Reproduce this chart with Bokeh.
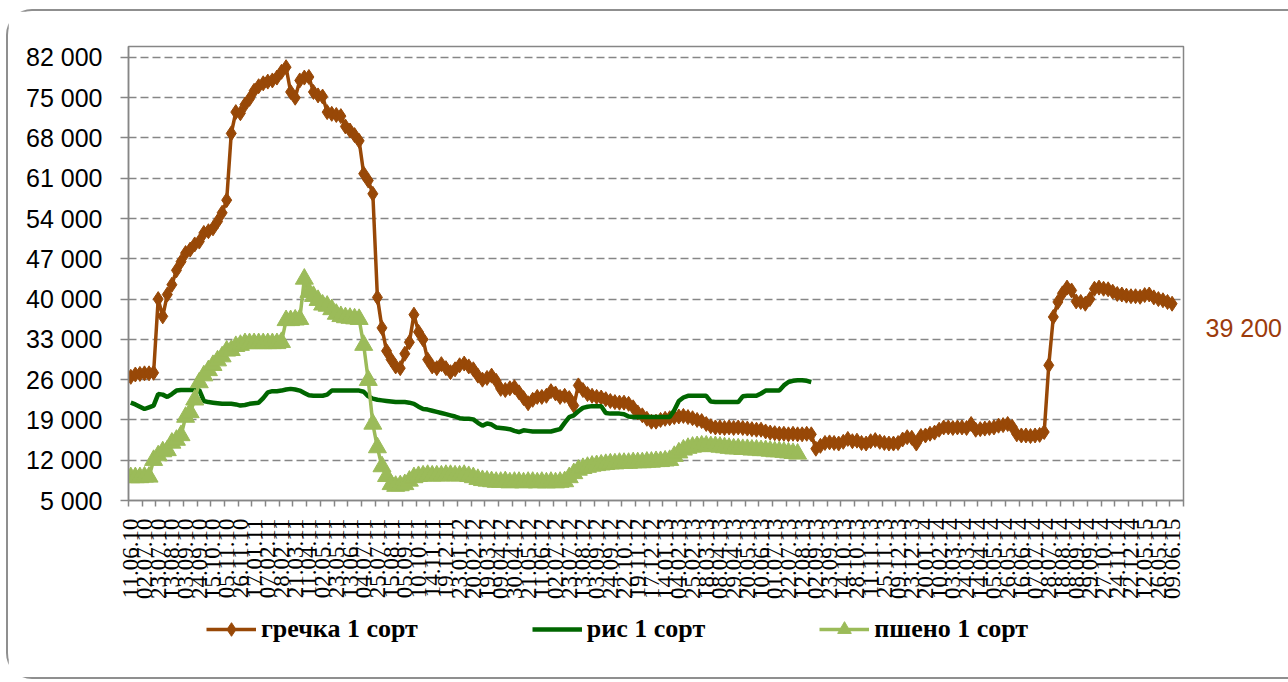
import math
from bokeh.plotting import figure
from bokeh.layouts import column
from bokeh.models import Range1d, FixedTicker, Legend, LegendItem, LinearAxis
from bokeh.embed import file_html
from bokeh.resources import INLINE

# ---------------- data ----------------
x_labels = [
    "11.06.10", "02.07.10", "23.07.10", "13.08.10", "03.09.10", "24.09.10", "15.10.10", "05.11.10", "26.11.10",
    "17.01.11", "07.02.11", "28.02.11", "21.03.11", "11.04.11", "02.05.11", "23.05.11", "13.06.11", "04.07.11",
    "25.07.11", "15.08.11", "05.09.11", "10.10.11", "14.11.11", "19.12.11",
    "23.01.12", "20.02.12", "19.03.12", "09.04.12", "30.04.12", "21.05.12", "11.06.12", "02.07.12", "23.07.12",
    "13.08.12", "03.09.12", "24.09.12", "22.10.12", "19.11.12", "17.12.12",
    "14.01.13", "04.02.13", "25.02.13", "18.03.13", "08.04.13", "29.04.13", "20.05.13", "10.06.13", "01.07.13",
    "22.07.13", "12.08.13", "02.09.13", "23.09.13", "14.10.13", "28.10.13", "11.11.13", "25.11.13", "09.12.13",
    "23.12.13",
    "20.01.14", "10.02.14", "03.03.14", "24.03.14", "14.04.14", "05.05.14", "26.05.14", "16.06.14", "07.07.14",
    "28.07.14", "18.08.14", "08.09.14", "29.09.14", "27.10.14", "24.11.14", "22.12.14",
    "12.05.15", "26.05.15", "09.06.15",
]

grechka = [
    26500, 26900, 27000, 27100, 27100, 27200,
    40000, 37000, 40800, 42500, 45000,
    46500, 48000, 48600, 49500, 50000,
    51500, 51800, 52300, 53500, 55000, 57200, 68800,
    72500, 72300, 73800, 74800, 76200, 77000, 77500,
    77800, 78000, 78500, 79500, 80300,
    76000, 75000, 78000, 78500, 78600,
    76000, 75400, 75200, 72500, 72200, 72000, 71800,
    70000, 69300, 68500, 67500, 61800, 60600, 58300,
    40300, 35000, 31000, 29500, 28300, 28000,
    30500, 32500, 37300, 34300, 33000, 29500, 28300,
    28000, 28700, 28000, 27300, 27800, 28500, 28800, 28300, 27800,
    26700, 26000, 26300, 26700, 25800, 24400, 24200, 24500, 24700,
    23800, 22800, 21900, 22500, 23000, 23000, 23200, 24000, 23600,
    23000, 23200, 22800, 21500, 25000, 24200,
    23500, 23200, 23000, 22900, 22600, 22300, 22100, 22000, 22000, 21800,
    21200, 20300, 19800, 19200, 18700, 18700, 19000, 19200, 19300, 19500,
    19600, 19700, 19500, 19300, 19000, 18800, 18300, 17900, 17700,
    17700, 17600, 17700, 17600, 17700, 17600, 17500,
    17400, 17300, 17300, 17000, 16800, 16700,
    16600, 16600, 16500, 16600, 16500, 16500, 16600, 16500,
    14000, 14500, 15000, 15100, 15000, 14900, 15200, 15700, 15300, 15400,
    15000, 14900, 15300, 15500, 15200, 15000, 14900, 14900, 15000, 15600,
    16000, 15900, 14900, 16200, 16300, 16600, 16800, 17300, 17700,
    17700, 17600, 17700, 17700, 17600,
    18300, 17300, 17400, 17500, 17600, 17700, 18000, 18100, 18300, 17800,
    16500, 16300, 16300, 16200, 16300, 16400,
    16900, 28500, 36900, 39500, 41000, 42000, 41500, 39600, 39500, 39200,
    40000, 41800, 42000, 41800, 41700, 41300, 40900, 40800, 40600, 40500,
    40500, 40400, 40700, 40800, 40300, 40000, 39800, 39500, 39200,
]

ris = [
    22000, 21700, 21300, 20900, 21200, 21500,
    23500, 23400, 23000, 23500, 24100,
    24200, 24200, 24200, 24200, 24200,
    22300, 22100, 22000, 21900, 21800,
    21800, 21800, 21700, 21500, 21600, 21800, 21900, 22000,
    22800, 23800, 24000, 24000, 24100, 24300, 24400, 24300, 24100,
    23700, 23300, 23200, 23200, 23200, 23400,
    24100, 24100, 24100, 24100, 24100, 24100, 24100,
    23900, 23100, 22700, 22500, 22400, 22300, 22200, 22100,
    22100, 22100, 22000, 21800, 21300, 20900, 20800, 20600,
    20400, 20200, 20000, 19800, 19600, 19300, 19200, 19200, 19100,
    18500, 18000, 18400, 18200, 17700, 17600, 17500, 17400, 17100, 16900,
    17200, 17100, 17000, 17000, 17000, 17000, 17000, 17200, 17400,
    18500, 19500, 19800, 20500, 21100, 21300, 21400, 21400, 21400,
    20200, 20100, 20100, 20100, 20000, 19600,
    19500, 19500, 19500, 19500, 19500, 19500, 19500, 19500, 19500,
    20700, 22300, 22900, 23200, 23200, 23200, 23200, 23200,
    22200, 22100, 22100, 22100, 22100, 22100, 22100,
    23100, 23200, 23200, 23200, 23600, 24100, 24100, 24100, 24100,
    25000, 25600, 25800, 25900, 25900, 25800, 25600,
]

psheno = [
    9000, 9000, 9000, 9100, 9100,
    12000, 12800, 13500, 13700, 15000, 15500,
    16300, 19500, 20300, 22500, 25500,
    26700, 27600, 28500, 29300, 30000, 31000, 31100, 31800, 32000,
    32300, 32300, 32300, 32300, 32300, 32300, 32300, 32300, 32500,
    36300, 36300, 36400, 36500,
    43500, 41200, 40500, 39800, 39000, 38800, 38200,
    37400, 37000, 36800, 36700, 36600, 36500,
    32000, 25900, 18300, 14200, 10900, 9200,
    7800, 7500, 7600, 7800, 8400, 9000, 9200,
    9300, 9400, 9300, 9300, 9300, 9400, 9400, 9300, 9300, 9400, 9200, 9000,
    8700, 8500, 8400, 8300, 8200, 8200, 8300, 8100, 8200, 8200,
    8100, 8200, 8200, 8100, 8200, 8100, 8200, 8100, 8200, 8300,
    9000, 9700, 10300, 10600, 10800, 11000, 11100, 11200,
    11300, 11400, 11400, 11500, 11500, 11500, 11600, 11600, 11600, 11700,
    11700, 11800, 11800, 11900, 12000,
    12700, 13300, 13800, 14100, 14300, 14400,
    14500, 14500, 14400, 14400, 14300, 14200,
    14100, 14000, 14000, 13900, 13900, 13800, 13800, 13700, 13700, 13600,
    13500, 13500, 13400, 13300, 13200, 13100,
]

series_names = ["гречка 1 сорт", "рис 1 сорт", "пшено 1 сорт"]
y_ticks = [5000, 12000, 19000, 26000, 33000, 40000, 47000, 54000, 61000, 68000, 75000, 82000]
y_tick_labels = ["5 000", "12 000", "19 000", "26 000", "33 000", "40 000", "47 000",
                 "54 000", "61 000", "68 000", "75 000", "82 000"]
last_value_level = 34900   # height at which the last buckwheat value is written

N_CATS = 231          # category slots on the axis
LABEL_STEP = 3        # a label every third category

BROWN = "#984807"
GREEN = "#006600"
LGREEN = "#9BBB59"
GRAY = "#868686"

# ---------------- main figure ----------------
p = figure(width=1280, height=600, output_backend="svg", toolbar_location=None,
           x_range=Range1d(-0.5, N_CATS - 0.5), y_range=Range1d(5000, 83900),
           min_border_left=120, min_border_right=105, min_border_top=35, min_border_bottom=111)
p.title.visible = False
p.background_fill_color = "white"
p.border_fill_color = "white"
p.outline_line_color = GRAY
p.outline_line_width = 1.5

label_pos = [i * LABEL_STEP for i in range(len(x_labels))]
bounds = [i - 0.5 for i in range(0, N_CATS + 1, LABEL_STEP)]

xa = p.xaxis[0]
xa.ticker = FixedTicker(ticks=label_pos, minor_ticks=bounds)
xa.major_label_overrides = {pos: lab for pos, lab in zip(label_pos, x_labels)}
xa.major_label_orientation = math.pi / 2
xa.major_tick_line_color = None
xa.major_tick_out = 0
xa.major_tick_in = 0
xa.minor_tick_line_color = GRAY
xa.minor_tick_line_width = 1.5
xa.minor_tick_out = 6
xa.minor_tick_in = 0
xa.axis_line_color = GRAY
xa.axis_line_width = 1.5
xa.major_label_text_font = "Liberation Serif"
xa.major_label_text_font_size = "23px"
xa.major_label_text_color = "black"
xa.major_label_standoff = 12

ya = p.yaxis[0]
ya.ticker = FixedTicker(ticks=y_ticks)
ya.major_label_overrides = dict(zip(y_ticks, y_tick_labels))
ya.major_tick_line_color = GRAY
ya.major_tick_line_width = 1.5
ya.major_tick_out = 8
ya.major_tick_in = 0
ya.minor_tick_line_color = None
ya.axis_line_color = GRAY
ya.axis_line_width = 1.5
ya.major_label_text_font = "Liberation Sans"
ya.major_label_text_font_size = "25px"
ya.major_label_text_color = "black"
ya.major_label_standoff = 18

p.xgrid.visible = False
p.ygrid.grid_line_color = GRAY
p.ygrid.grid_line_width = 1.5
p.ygrid.grid_line_dash = "8 4"

# right-hand axis carrying the last buckwheat value
ra = LinearAxis(ticker=FixedTicker(ticks=[last_value_level]),
                major_label_overrides={last_value_level: f"{grechka[-1]:,}".replace(",", " ")})
ra.axis_line_color = None
ra.major_tick_line_color = None
ra.minor_tick_line_color = None
ra.major_tick_out = 0
ra.major_tick_in = 0
ra.major_label_standoff = 22
ra.major_label_text_font = "Liberation Sans"
ra.major_label_text_font_size = "25px"
ra.major_label_text_color = "#9C3B0B"
p.add_layout(ra, "right")

# ---------------- series ----------------
xg = list(range(len(grechka)))
xr = list(range(len(ris)))
xp = list(range(len(psheno)))

STY = dict(
    g_line=dict(line_color=BROWN, line_width=3.5),
    g_mark=dict(marker="diamond", size=15, fill_color=BROWN, line_color=BROWN),
    r_line=dict(line_color=GREEN, line_width=4.5),
    p_line=dict(line_color=LGREEN, line_width=3.5),
    p_mark=dict(marker="triangle", size=18, fill_color=LGREEN, line_color=LGREEN),
)

p.line(xg, grechka, **STY["g_line"])
p.scatter(xg, grechka, **STY["g_mark"])
p.line(xr, ris, **STY["r_line"])
p.line(xp, psheno, **STY["p_line"])
p.scatter(xp, psheno, **STY["p_mark"])

# ---------------- legend strip (own small figure) ----------------
lg = figure(width=1280, height=66, output_backend="svg", toolbar_location=None,
            x_range=Range1d(0, 1), y_range=Range1d(0, 1),
            x_axis_location=None, y_axis_location=None, min_border=0)
lg.title.visible = False
lg.grid.visible = False
lg.outline_line_color = None
lg.background_fill_color = "white"
lg.border_fill_color = "white"
# same series, drawn off the visible range of this strip: only their legend swatches show
l1 = lg.line(xg, grechka, **STY["g_line"])
l1m = lg.scatter(xg, grechka, **STY["g_mark"])
l2 = lg.line(xr, ris, **STY["r_line"])
l3 = lg.line(xp, psheno, **STY["p_line"])
l3m = lg.scatter(xp, psheno, **STY["p_mark"])

legend = Legend(items=[LegendItem(label=series_names[0], renderers=[l1, l1m]),
                       LegendItem(label=series_names[1], renderers=[l2]),
                       LegendItem(label=series_names[2], renderers=[l3, l3m])],
                orientation="horizontal", location=(78, 31), spacing=114,
                glyph_width=50, glyph_height=34, label_height=32, label_standoff=5,
                padding=0, margin=0, border_line_color=None, background_fill_alpha=0,
                label_text_font="Liberation Serif", label_text_font_style="bold",
                label_text_font_size="26px", label_text_color="black")
lg.add_layout(legend)

layout = column(p, lg, spacing=0,
                styles={"margin-left": "6px", "margin-top": "9px",
                        "border": "2px solid #8f8f8f", "border-right": "none",
                        "border-radius": "26px 0 0 26px", "padding": "0"})

open("out.html", "w").write(file_html(layout, INLINE))
